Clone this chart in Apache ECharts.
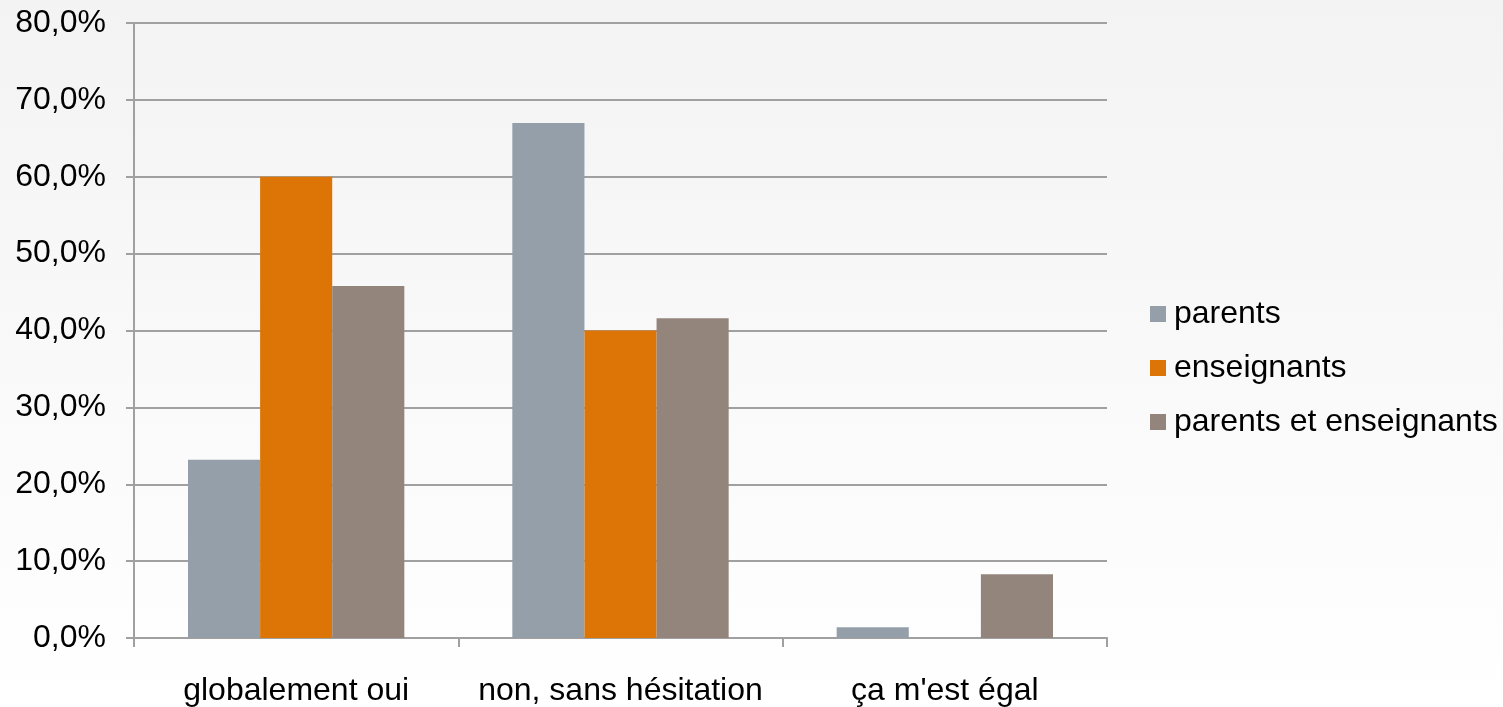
<!DOCTYPE html>
<html><head><meta charset="utf-8">
<script src="https://cdn.jsdelivr.net/npm/echarts@6/dist/echarts.min.js"></script>
<style>html,body{margin:0;padding:0;}#c{width:1503px;height:707px;}</style>
</head><body><div id="c"></div>
<script>
var categories = ['globalement oui', 'non, sans hésitation', "ça m'est égal"];
var seriesNames = ['parents', 'enseignants', 'parents et enseignants'];
var parents = [23.2, 67.0, 1.4];
var enseignants = [60.0, 40.0, 0];
var parentsEtEnseignants = [45.8, 41.6, 8.3];
var colors = ['#949FAA', '#DC7506', '#94857C'];
var values = [parents, enseignants, parentsEtEnseignants];

var chart = echarts.init(document.getElementById('c'));
var font = 'Liberation Sans, Arial, sans-serif';
chart.setOption({
  backgroundColor: new echarts.graphic.LinearGradient(0, 0, 0, 1, [
    {offset: 0, color: '#f3f3f3'}, {offset: 1, color: '#ffffff'}
  ]),
  animation: false,
  grid: {left: 134, right: 396, top: 23, bottom: 68, containLabel: false},
  legend: {
    orient: 'vertical', left: 1145, top: 293,
    itemWidth: 16, itemHeight: 16, itemGap: 22, icon: 'rect',
    textStyle: {fontFamily: font, fontSize: 32, color: '#000', padding: [0, 0, 0, 3]},
    data: seriesNames
  },
  xAxis: {
    type: 'category', data: categories,
    axisLine: {lineStyle: {color: '#a0a0a0', width: 2}},
    axisTick: {show: true, length: 9, lineStyle: {color: '#a0a0a0', width: 2}},
    axisLabel: {fontFamily: font, fontSize: 32, color: '#000', margin: 37, interval: 0}
  },
  yAxis: {
    type: 'value', min: 0, max: 80, interval: 10,
    axisLine: {show: true, lineStyle: {color: '#a0a0a0', width: 2}},
    axisTick: {show: true, length: 8, lineStyle: {color: '#a0a0a0', width: 2}},
    splitLine: {lineStyle: {color: '#a0a0a0', width: 2}},
    axisLabel: {fontFamily: font, fontSize: 32, color: '#000', margin: 28, padding: [5, 0, 0, 0],
      formatter: function (v) { return v.toFixed(1).replace('.', ',') + '%'; }}
  },
  series: seriesNames.map(function (n, i) {
    return {
      name: n, type: 'bar', data: values[i], barGap: '0%', barCategoryGap: '33.3%',
      itemStyle: {color: colors[i]}
    };
  })
});
</script></body></html>
